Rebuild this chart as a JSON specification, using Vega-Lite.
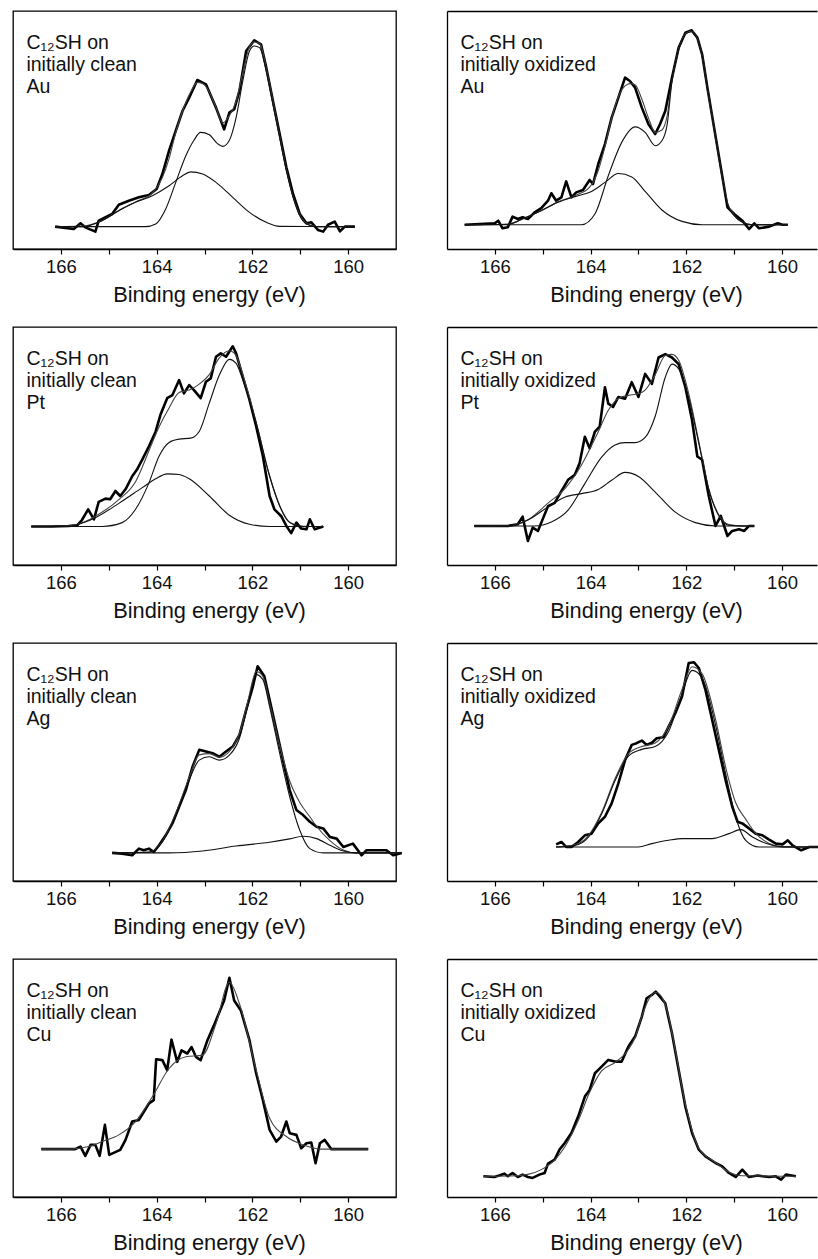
{
"$schema": "https://vega.github.io/schema/vega-lite/v6.json",
"padding": {"left": 12, "top": 10, "right": 0, "bottom": 0},
"config": {"font": "Liberation Sans", "view": {"stroke": null}},
"datasets": {
"clean": [
{"metal":"Au","series":"label","label":"C₁₂SH on\ninitially clean\nAu"},
{"metal":"Pt","series":"label","label":"C₁₂SH on\ninitially clean\nPt"},
{"metal":"Ag","series":"label","label":"C₁₂SH on\ninitially clean\nAg"},
{"metal":"Cu","series":"label","label":"C₁₂SH on\ninitially clean\nCu"},
{"metal":"Au","series":"raw","energy":166.12,"intensity":9.4},{"metal":"Au","series":"raw","energy":165.73,"intensity":8.4},{"metal":"Au","series":"raw","energy":165.59,"intensity":10.8},{"metal":"Au","series":"raw","energy":165.49,"intensity":9.1},{"metal":"Au","series":"raw","energy":165.28,"intensity":7.3},{"metal":"Au","series":"raw","energy":165.21,"intensity":11.9},{"metal":"Au","series":"raw","energy":164.93,"intensity":14.7},{"metal":"Au","series":"raw","energy":164.79,"intensity":18.6},{"metal":"Au","series":"raw","energy":164.58,"intensity":20.3},{"metal":"Au","series":"raw","energy":164.37,"intensity":21.7},{"metal":"Au","series":"raw","energy":164.16,"intensity":22.7},{"metal":"Au","series":"raw","energy":164.0,"intensity":25.2},{"metal":"Au","series":"raw","energy":163.88,"intensity":31.5},{"metal":"Au","series":"raw","energy":163.74,"intensity":41.3},{"metal":"Au","series":"raw","energy":163.6,"intensity":49.7},{"metal":"Au","series":"raw","energy":163.46,"intensity":58.0},{"metal":"Au","series":"raw","energy":163.32,"intensity":63.6},{"metal":"Au","series":"raw","energy":163.15,"intensity":71.0},{"metal":"Au","series":"raw","energy":162.97,"intensity":69.2},{"metal":"Au","series":"raw","energy":162.76,"intensity":59.4},{"metal":"Au","series":"raw","energy":162.59,"intensity":50.3},{"metal":"Au","series":"raw","energy":162.48,"intensity":57.3},{"metal":"Au","series":"raw","energy":162.38,"intensity":58.7},{"metal":"Au","series":"raw","energy":162.27,"intensity":66.4},{"metal":"Au","series":"raw","energy":162.13,"intensity":83.2},{"metal":"Au","series":"raw","energy":161.96,"intensity":87.7},{"metal":"Au","series":"raw","energy":161.82,"intensity":86.0},{"metal":"Au","series":"raw","energy":161.71,"intensity":76.2},{"metal":"Au","series":"raw","energy":161.57,"intensity":62.2},{"metal":"Au","series":"raw","energy":161.43,"intensity":48.3},{"metal":"Au","series":"raw","energy":161.29,"intensity":34.3},{"metal":"Au","series":"raw","energy":161.15,"intensity":23.1},{"metal":"Au","series":"raw","energy":161.01,"intensity":14.7},{"metal":"Au","series":"raw","energy":160.87,"intensity":10.8},{"metal":"Au","series":"raw","energy":160.77,"intensity":11.2},{"metal":"Au","series":"raw","energy":160.63,"intensity":8.0},{"metal":"Au","series":"raw","energy":160.52,"intensity":7.3},{"metal":"Au","series":"raw","energy":160.42,"intensity":10.2},{"metal":"Au","series":"raw","energy":160.28,"intensity":11.5},{"metal":"Au","series":"raw","energy":160.17,"intensity":7.4},{"metal":"Au","series":"raw","energy":160.07,"intensity":9.4},{"metal":"Au","series":"raw","energy":159.86,"intensity":9.4},
{"metal":"Au","series":"fit","energy":166.12,"intensity":9.4},{"metal":"Au","series":"fit","energy":165.56,"intensity":9.6},{"metal":"Au","series":"fit","energy":165.14,"intensity":12.0},{"metal":"Au","series":"fit","energy":164.79,"intensity":16.2},{"metal":"Au","series":"fit","energy":164.44,"intensity":19.8},{"metal":"Au","series":"fit","energy":164.09,"intensity":23.5},{"metal":"Au","series":"fit","energy":163.88,"intensity":30},{"metal":"Au","series":"fit","energy":163.74,"intensity":38},{"metal":"Au","series":"fit","energy":163.6,"intensity":49},{"metal":"Au","series":"fit","energy":163.46,"intensity":58},{"metal":"Au","series":"fit","energy":163.29,"intensity":66},{"metal":"Au","series":"fit","energy":163.15,"intensity":70},{"metal":"Au","series":"fit","energy":163.04,"intensity":69.5},{"metal":"Au","series":"fit","energy":162.9,"intensity":66},{"metal":"Au","series":"fit","energy":162.76,"intensity":59.5},{"metal":"Au","series":"fit","energy":162.62,"intensity":53},{"metal":"Au","series":"fit","energy":162.48,"intensity":56},{"metal":"Au","series":"fit","energy":162.34,"intensity":62},{"metal":"Au","series":"fit","energy":162.2,"intensity":74},{"metal":"Au","series":"fit","energy":162.06,"intensity":85},{"metal":"Au","series":"fit","energy":161.96,"intensity":87},{"metal":"Au","series":"fit","energy":161.85,"intensity":86.5},{"metal":"Au","series":"fit","energy":161.71,"intensity":76},{"metal":"Au","series":"fit","energy":161.57,"intensity":62},{"metal":"Au","series":"fit","energy":161.43,"intensity":47.5},{"metal":"Au","series":"fit","energy":161.29,"intensity":33.5},{"metal":"Au","series":"fit","energy":161.15,"intensity":22},{"metal":"Au","series":"fit","energy":161.01,"intensity":14.5},{"metal":"Au","series":"fit","energy":160.87,"intensity":10.8},{"metal":"Au","series":"fit","energy":160.66,"intensity":9.4},{"metal":"Au","series":"fit","energy":159.86,"intensity":9.4},
{"metal":"Au","series":"c1","energy":166.12,"intensity":9.4},{"metal":"Au","series":"c1","energy":165.56,"intensity":9.4},{"metal":"Au","series":"c1","energy":165.14,"intensity":11.9},{"metal":"Au","series":"c1","energy":164.79,"intensity":16.1},{"metal":"Au","series":"c1","energy":164.44,"intensity":19.6},{"metal":"Au","series":"c1","energy":164.09,"intensity":22.4},{"metal":"Au","series":"c1","energy":163.74,"intensity":26.6},{"metal":"Au","series":"c1","energy":163.46,"intensity":30.8},{"metal":"Au","series":"c1","energy":163.29,"intensity":32.4},{"metal":"Au","series":"c1","energy":163.04,"intensity":31.5},{"metal":"Au","series":"c1","energy":162.76,"intensity":28.0},{"metal":"Au","series":"c1","energy":162.41,"intensity":21.7},{"metal":"Au","series":"c1","energy":162.06,"intensity":15.4},{"metal":"Au","series":"c1","energy":161.71,"intensity":11.2},{"metal":"Au","series":"c1","energy":161.43,"intensity":9.5},{"metal":"Au","series":"c1","energy":159.86,"intensity":9.4},
{"metal":"Au","series":"c2","energy":166.12,"intensity":9.4},{"metal":"Au","series":"c2","energy":164.23,"intensity":9.4},{"metal":"Au","series":"c2","energy":164.02,"intensity":10.5},{"metal":"Au","series":"c2","energy":163.81,"intensity":16.8},{"metal":"Au","series":"c2","energy":163.6,"intensity":28.0},{"metal":"Au","series":"c2","energy":163.39,"intensity":39.2},{"metal":"Au","series":"c2","energy":163.22,"intensity":45.7},{"metal":"Au","series":"c2","energy":163.08,"intensity":49.0},{"metal":"Au","series":"c2","energy":162.9,"intensity":48.0},{"metal":"Au","series":"c2","energy":162.73,"intensity":44.3},{"metal":"Au","series":"c2","energy":162.62,"intensity":43.1},{"metal":"Au","series":"c2","energy":162.48,"intensity":45.7},{"metal":"Au","series":"c2","energy":162.34,"intensity":55.2},{"metal":"Au","series":"c2","energy":162.2,"intensity":70.6},{"metal":"Au","series":"c2","energy":162.06,"intensity":83.2},{"metal":"Au","series":"c2","energy":161.96,"intensity":85.3},{"metal":"Au","series":"c2","energy":161.85,"intensity":84.6},{"metal":"Au","series":"c2","energy":161.71,"intensity":74.8},{"metal":"Au","series":"c2","energy":161.57,"intensity":60.8},{"metal":"Au","series":"c2","energy":161.43,"intensity":46.9},{"metal":"Au","series":"c2","energy":161.29,"intensity":32.9},{"metal":"Au","series":"c2","energy":161.15,"intensity":21.7},{"metal":"Au","series":"c2","energy":161.01,"intensity":14.0},{"metal":"Au","series":"c2","energy":160.87,"intensity":10.5},{"metal":"Au","series":"c2","energy":160.66,"intensity":9.4},{"metal":"Au","series":"c2","energy":159.86,"intensity":9.4},
{"metal":"Pt","series":"raw","energy":166.62,"intensity":16.2},{"metal":"Pt","series":"raw","energy":166.19,"intensity":16.2},{"metal":"Pt","series":"raw","energy":165.84,"intensity":16.4},{"metal":"Pt","series":"raw","energy":165.66,"intensity":16.7},{"metal":"Pt","series":"raw","energy":165.56,"intensity":18.9},{"metal":"Pt","series":"raw","energy":165.43,"intensity":23.4},{"metal":"Pt","series":"raw","energy":165.31,"intensity":19.2},{"metal":"Pt","series":"raw","energy":165.21,"intensity":26.5},{"metal":"Pt","series":"raw","energy":165.07,"intensity":27.9},{"metal":"Pt","series":"raw","energy":164.97,"intensity":27.6},{"metal":"Pt","series":"raw","energy":164.86,"intensity":31.1},{"metal":"Pt","series":"raw","energy":164.76,"intensity":29.0},{"metal":"Pt","series":"raw","energy":164.65,"intensity":31.8},{"metal":"Pt","series":"raw","energy":164.51,"intensity":37.3},{"metal":"Pt","series":"raw","energy":164.41,"intensity":40.1},{"metal":"Pt","series":"raw","energy":164.3,"intensity":44.3},{"metal":"Pt","series":"raw","energy":164.16,"intensity":49.9},{"metal":"Pt","series":"raw","energy":164.02,"intensity":56.1},{"metal":"Pt","series":"raw","energy":163.92,"intensity":63.1},{"metal":"Pt","series":"raw","energy":163.78,"intensity":70.1},{"metal":"Pt","series":"raw","energy":163.67,"intensity":71.4},{"metal":"Pt","series":"raw","energy":163.53,"intensity":77.7},{"metal":"Pt","series":"raw","energy":163.43,"intensity":72.1},{"metal":"Pt","series":"raw","energy":163.32,"intensity":75.6},{"metal":"Pt","series":"raw","energy":163.22,"intensity":73.5},{"metal":"Pt","series":"raw","energy":163.08,"intensity":70.1},{"metal":"Pt","series":"raw","energy":162.97,"intensity":77.0},{"metal":"Pt","series":"raw","energy":162.87,"intensity":78.4},{"metal":"Pt","series":"raw","energy":162.76,"intensity":87.5},{"metal":"Pt","series":"raw","energy":162.66,"intensity":88.9},{"metal":"Pt","series":"raw","energy":162.55,"intensity":87.5},{"metal":"Pt","series":"raw","energy":162.41,"intensity":91.9},{"metal":"Pt","series":"raw","energy":162.34,"intensity":88.9},{"metal":"Pt","series":"raw","energy":162.2,"intensity":79.1},{"metal":"Pt","series":"raw","energy":162.06,"intensity":69.4},{"metal":"Pt","series":"raw","energy":161.92,"intensity":58.2},{"metal":"Pt","series":"raw","energy":161.78,"intensity":45.7},{"metal":"Pt","series":"raw","energy":161.64,"intensity":29.0},{"metal":"Pt","series":"raw","energy":161.54,"intensity":23.4},{"metal":"Pt","series":"raw","energy":161.4,"intensity":20.6},{"metal":"Pt","series":"raw","energy":161.29,"intensity":16.4},{"metal":"Pt","series":"raw","energy":161.19,"intensity":13.4},{"metal":"Pt","series":"raw","energy":161.08,"intensity":17.8},{"metal":"Pt","series":"raw","energy":160.98,"intensity":15.3},{"metal":"Pt","series":"raw","energy":160.87,"intensity":15.0},{"metal":"Pt","series":"raw","energy":160.8,"intensity":19.2},{"metal":"Pt","series":"raw","energy":160.7,"intensity":15.0},{"metal":"Pt","series":"raw","energy":160.52,"intensity":16.2},
{"metal":"Pt","series":"fit","energy":166.62,"intensity":16.2},{"metal":"Pt","series":"fit","energy":165.84,"intensity":16.5},{"metal":"Pt","series":"fit","energy":165.49,"intensity":18.3},{"metal":"Pt","series":"fit","energy":165.28,"intensity":20.5},{"metal":"Pt","series":"fit","energy":164.79,"intensity":27.5},{"metal":"Pt","series":"fit","energy":164.44,"intensity":35},{"metal":"Pt","series":"fit","energy":164.16,"intensity":48},{"metal":"Pt","series":"fit","energy":163.95,"intensity":58},{"metal":"Pt","series":"fit","energy":163.74,"intensity":66},{"metal":"Pt","series":"fit","energy":163.53,"intensity":72.5},{"metal":"Pt","series":"fit","energy":163.32,"intensity":73.5},{"metal":"Pt","series":"fit","energy":163.11,"intensity":76},{"metal":"Pt","series":"fit","energy":162.9,"intensity":80},{"metal":"Pt","series":"fit","energy":162.69,"intensity":87},{"metal":"Pt","series":"fit","energy":162.48,"intensity":90},{"metal":"Pt","series":"fit","energy":162.34,"intensity":88},{"metal":"Pt","series":"fit","energy":162.2,"intensity":80},{"metal":"Pt","series":"fit","energy":161.92,"intensity":60},{"metal":"Pt","series":"fit","energy":161.64,"intensity":37.5},{"metal":"Pt","series":"fit","energy":161.43,"intensity":25},{"metal":"Pt","series":"fit","energy":161.22,"intensity":18},{"metal":"Pt","series":"fit","energy":160.94,"intensity":16.3},{"metal":"Pt","series":"fit","energy":160.52,"intensity":16.2},
{"metal":"Pt","series":"c1","energy":166.62,"intensity":16.2},{"metal":"Pt","series":"c1","energy":165.84,"intensity":16.4},{"metal":"Pt","series":"c1","energy":165.49,"intensity":18.1},{"metal":"Pt","series":"c1","energy":165.28,"intensity":19.9},{"metal":"Pt","series":"c1","energy":164.79,"intensity":25.9},{"metal":"Pt","series":"c1","energy":164.3,"intensity":32.5},{"metal":"Pt","series":"c1","energy":164.02,"intensity":36.2},{"metal":"Pt","series":"c1","energy":163.78,"intensity":38.3},{"metal":"Pt","series":"c1","energy":163.53,"intensity":38.0},{"metal":"Pt","series":"c1","energy":163.32,"intensity":36.2},{"metal":"Pt","series":"c1","energy":162.9,"intensity":29.0},{"metal":"Pt","series":"c1","energy":162.48,"intensity":20.9},{"metal":"Pt","series":"c1","energy":162.06,"intensity":17.1},{"metal":"Pt","series":"c1","energy":161.64,"intensity":16.2},{"metal":"Pt","series":"c1","energy":160.52,"intensity":16.2},
{"metal":"Pt","series":"c2","energy":166.62,"intensity":16.2},{"metal":"Pt","series":"c2","energy":165.14,"intensity":16.2},{"metal":"Pt","series":"c2","energy":164.72,"intensity":17.8},{"metal":"Pt","series":"c2","energy":164.44,"intensity":23.4},{"metal":"Pt","series":"c2","energy":164.16,"intensity":34.5},{"metal":"Pt","series":"c2","energy":163.95,"intensity":45.7},{"metal":"Pt","series":"c2","energy":163.74,"intensity":51.5},{"metal":"Pt","series":"c2","energy":163.53,"intensity":52.9},{"metal":"Pt","series":"c2","energy":163.29,"intensity":53.3},{"metal":"Pt","series":"c2","energy":163.11,"intensity":56.1},{"metal":"Pt","series":"c2","energy":162.9,"intensity":68.0},{"metal":"Pt","series":"c2","energy":162.69,"intensity":79.8},{"metal":"Pt","series":"c2","energy":162.48,"intensity":86.4},{"metal":"Pt","series":"c2","energy":162.34,"intensity":84.7},{"metal":"Pt","series":"c2","energy":162.2,"intensity":77.7},{"metal":"Pt","series":"c2","energy":161.92,"intensity":59.6},{"metal":"Pt","series":"c2","energy":161.64,"intensity":37.3},{"metal":"Pt","series":"c2","energy":161.43,"intensity":24.8},{"metal":"Pt","series":"c2","energy":161.22,"intensity":17.8},{"metal":"Pt","series":"c2","energy":160.94,"intensity":16.2},{"metal":"Pt","series":"c2","energy":160.52,"intensity":16.2},
{"metal":"Ag","series":"raw","energy":164.93,"intensity":11.8},{"metal":"Ag","series":"raw","energy":164.72,"intensity":11.5},{"metal":"Ag","series":"raw","energy":164.51,"intensity":10.8},{"metal":"Ag","series":"raw","energy":164.37,"intensity":13.6},{"metal":"Ag","series":"raw","energy":164.27,"intensity":12.9},{"metal":"Ag","series":"raw","energy":164.16,"intensity":13.6},{"metal":"Ag","series":"raw","energy":164.06,"intensity":12.2},{"metal":"Ag","series":"raw","energy":163.95,"intensity":15.0},{"metal":"Ag","series":"raw","energy":163.81,"intensity":19.2},{"metal":"Ag","series":"raw","energy":163.67,"intensity":24.2},{"metal":"Ag","series":"raw","energy":163.53,"intensity":31.2},{"metal":"Ag","series":"raw","energy":163.39,"intensity":38.2},{"metal":"Ag","series":"raw","energy":163.25,"intensity":48.0},{"metal":"Ag","series":"raw","energy":163.11,"intensity":55.1},{"metal":"Ag","series":"raw","energy":162.97,"intensity":54.4},{"metal":"Ag","series":"raw","energy":162.83,"intensity":53.7},{"metal":"Ag","series":"raw","energy":162.69,"intensity":52.2},{"metal":"Ag","series":"raw","energy":162.55,"intensity":54.4},{"metal":"Ag","series":"raw","energy":162.41,"intensity":56.5},{"metal":"Ag","series":"raw","energy":162.27,"intensity":61.4},{"metal":"Ag","series":"raw","energy":162.13,"intensity":71.9},{"metal":"Ag","series":"raw","energy":161.99,"intensity":81.7},{"metal":"Ag","series":"raw","energy":161.89,"intensity":90.2},{"metal":"Ag","series":"raw","energy":161.75,"intensity":86.0},{"metal":"Ag","series":"raw","energy":161.64,"intensity":76.1},{"metal":"Ag","series":"raw","energy":161.5,"intensity":63.5},{"metal":"Ag","series":"raw","energy":161.36,"intensity":50.8},{"metal":"Ag","series":"raw","energy":161.22,"intensity":38.2},{"metal":"Ag","series":"raw","energy":161.08,"intensity":29.8},{"metal":"Ag","series":"raw","energy":160.94,"intensity":27.7},{"metal":"Ag","series":"raw","energy":160.8,"intensity":24.9},{"metal":"Ag","series":"raw","energy":160.66,"intensity":22.8},{"metal":"Ag","series":"raw","energy":160.52,"intensity":22.1},{"metal":"Ag","series":"raw","energy":160.38,"intensity":18.5},{"metal":"Ag","series":"raw","energy":160.24,"intensity":17.8},{"metal":"Ag","series":"raw","energy":160.1,"intensity":14.3},{"metal":"Ag","series":"raw","energy":159.9,"intensity":15.7},{"metal":"Ag","series":"raw","energy":159.72,"intensity":10.8},{"metal":"Ag","series":"raw","energy":159.62,"intensity":12.9},{"metal":"Ag","series":"raw","energy":159.2,"intensity":12.9},{"metal":"Ag","series":"raw","energy":159.06,"intensity":10.8},{"metal":"Ag","series":"raw","energy":158.88,"intensity":11.8},
{"metal":"Ag","series":"fit","energy":164.93,"intensity":11.8},{"metal":"Ag","series":"fit","energy":164.16,"intensity":12.2},{"metal":"Ag","series":"fit","energy":163.88,"intensity":16.6},{"metal":"Ag","series":"fit","energy":163.6,"intensity":28.5},{"metal":"Ag","series":"fit","energy":163.32,"intensity":43.5},{"metal":"Ag","series":"fit","energy":163.11,"intensity":53},{"metal":"Ag","series":"fit","energy":162.9,"intensity":53.5},{"metal":"Ag","series":"fit","energy":162.69,"intensity":52},{"metal":"Ag","series":"fit","energy":162.48,"intensity":54.5},{"metal":"Ag","series":"fit","energy":162.27,"intensity":62},{"metal":"Ag","series":"fit","energy":162.1,"intensity":75},{"metal":"Ag","series":"fit","energy":161.92,"intensity":88},{"metal":"Ag","series":"fit","energy":161.78,"intensity":86},{"metal":"Ag","series":"fit","energy":161.64,"intensity":75},{"metal":"Ag","series":"fit","energy":161.43,"intensity":57},{"metal":"Ag","series":"fit","energy":161.22,"intensity":42},{"metal":"Ag","series":"fit","energy":161.01,"intensity":33},{"metal":"Ag","series":"fit","energy":160.8,"intensity":27},{"metal":"Ag","series":"fit","energy":160.66,"intensity":23},{"metal":"Ag","series":"fit","energy":160.38,"intensity":17},{"metal":"Ag","series":"fit","energy":160.1,"intensity":13},{"metal":"Ag","series":"fit","energy":159.83,"intensity":11.8},{"metal":"Ag","series":"fit","energy":158.88,"intensity":11.8},
{"metal":"Ag","series":"c1","energy":164.93,"intensity":11.8},{"metal":"Ag","series":"c1","energy":163.74,"intensity":11.8},{"metal":"Ag","series":"c1","energy":163.04,"intensity":12.6},{"metal":"Ag","series":"c1","energy":162.34,"intensity":14.7},{"metal":"Ag","series":"c1","energy":161.64,"intensity":16.3},{"metal":"Ag","series":"c1","energy":161.22,"intensity":17.7},{"metal":"Ag","series":"c1","energy":160.94,"intensity":18.8},{"metal":"Ag","series":"c1","energy":160.66,"intensity":17.8},{"metal":"Ag","series":"c1","energy":160.38,"intensity":15.0},{"metal":"Ag","series":"c1","energy":160.1,"intensity":12.6},{"metal":"Ag","series":"c1","energy":159.83,"intensity":11.8},{"metal":"Ag","series":"c1","energy":158.88,"intensity":11.8},
{"metal":"Ag","series":"c2","energy":164.93,"intensity":11.8},{"metal":"Ag","series":"c2","energy":164.16,"intensity":12.1},{"metal":"Ag","series":"c2","energy":163.88,"intensity":16.4},{"metal":"Ag","series":"c2","energy":163.6,"intensity":27.7},{"metal":"Ag","series":"c2","energy":163.32,"intensity":42.4},{"metal":"Ag","series":"c2","energy":163.11,"intensity":50.8},{"metal":"Ag","series":"c2","energy":162.9,"intensity":52.2},{"metal":"Ag","series":"c2","energy":162.69,"intensity":50.8},{"metal":"Ag","series":"c2","energy":162.48,"intensity":52.9},{"metal":"Ag","series":"c2","energy":162.27,"intensity":60.0},{"metal":"Ag","series":"c2","energy":162.1,"intensity":73.3},{"metal":"Ag","series":"c2","energy":161.92,"intensity":86.7},{"metal":"Ag","series":"c2","energy":161.78,"intensity":84.6},{"metal":"Ag","series":"c2","energy":161.64,"intensity":73.3},{"metal":"Ag","series":"c2","energy":161.43,"intensity":53.7},{"metal":"Ag","series":"c2","energy":161.22,"intensity":35.4},{"metal":"Ag","series":"c2","energy":161.01,"intensity":21.3},{"metal":"Ag","series":"c2","energy":160.8,"intensity":13.6},{"metal":"Ag","series":"c2","energy":160.52,"intensity":11.8},{"metal":"Ag","series":"c2","energy":158.88,"intensity":11.8},
{"metal":"Cu","series":"raw","energy":166.41,"intensity":20.1},{"metal":"Cu","series":"raw","energy":165.7,"intensity":20.1},{"metal":"Cu","series":"raw","energy":165.59,"intensity":21.2},{"metal":"Cu","series":"raw","energy":165.49,"intensity":17.3},{"metal":"Cu","series":"raw","energy":165.38,"intensity":21.9},{"metal":"Cu","series":"raw","energy":165.28,"intensity":21.9},{"metal":"Cu","series":"raw","energy":165.19,"intensity":17.3},{"metal":"Cu","series":"raw","energy":165.08,"intensity":30.3},{"metal":"Cu","series":"raw","energy":164.99,"intensity":17.7},{"metal":"Cu","series":"raw","energy":164.76,"intensity":19.8},{"metal":"Cu","series":"raw","energy":164.65,"intensity":24.0},{"metal":"Cu","series":"raw","energy":164.51,"intensity":31.7},{"metal":"Cu","series":"raw","energy":164.37,"intensity":32.4},{"metal":"Cu","series":"raw","energy":164.16,"intensity":39.3},{"metal":"Cu","series":"raw","energy":164.06,"intensity":40.7},{"metal":"Cu","series":"raw","energy":164.01,"intensity":57.9},{"metal":"Cu","series":"raw","energy":163.88,"intensity":57.5},{"metal":"Cu","series":"raw","energy":163.78,"intensity":53.3},{"metal":"Cu","series":"raw","energy":163.69,"intensity":66.1},{"metal":"Cu","series":"raw","energy":163.57,"intensity":56.8},{"metal":"Cu","series":"raw","energy":163.48,"intensity":61.6},{"metal":"Cu","series":"raw","energy":163.36,"intensity":60.3},{"metal":"Cu","series":"raw","energy":163.27,"intensity":63.0},{"metal":"Cu","series":"raw","energy":163.18,"intensity":58.9},{"metal":"Cu","series":"raw","energy":163.08,"intensity":57.5},{"metal":"Cu","series":"raw","energy":162.94,"intensity":65.8},{"metal":"Cu","series":"raw","energy":162.76,"intensity":74.2},{"metal":"Cu","series":"raw","energy":162.59,"intensity":82.6},{"metal":"Cu","series":"raw","energy":162.48,"intensity":92.1},{"metal":"Cu","series":"raw","energy":162.38,"intensity":82.6},{"metal":"Cu","series":"raw","energy":162.24,"intensity":78.4},{"metal":"Cu","series":"raw","energy":162.06,"intensity":65.8},{"metal":"Cu","series":"raw","energy":161.92,"intensity":51.9},{"metal":"Cu","series":"raw","energy":161.78,"intensity":40.7},{"metal":"Cu","series":"raw","energy":161.64,"intensity":28.2},{"metal":"Cu","series":"raw","energy":161.5,"intensity":23.3},{"metal":"Cu","series":"raw","energy":161.4,"intensity":25.4},{"metal":"Cu","series":"raw","energy":161.29,"intensity":31.7},{"metal":"Cu","series":"raw","energy":161.22,"intensity":26.8},{"metal":"Cu","series":"raw","energy":161.08,"intensity":26.1},{"metal":"Cu","series":"raw","energy":160.98,"intensity":20.5},{"metal":"Cu","series":"raw","energy":160.87,"intensity":22.6},{"metal":"Cu","series":"raw","energy":160.77,"intensity":22.9},{"metal":"Cu","series":"raw","energy":160.68,"intensity":14.2},{"metal":"Cu","series":"raw","energy":160.59,"intensity":22.6},{"metal":"Cu","series":"raw","energy":160.49,"intensity":24.0},{"metal":"Cu","series":"raw","energy":160.35,"intensity":20.1},{"metal":"Cu","series":"raw","energy":159.58,"intensity":20.1},
{"metal":"Cu","series":"fit","energy":166.41,"intensity":20.1},{"metal":"Cu","series":"fit","energy":165.84,"intensity":20.1},{"metal":"Cu","series":"fit","energy":165.42,"intensity":21.2},{"metal":"Cu","series":"fit","energy":165.14,"intensity":23.3},{"metal":"Cu","series":"fit","energy":164.79,"intensity":26.1},{"metal":"Cu","series":"fit","energy":164.44,"intensity":31.7},{"metal":"Cu","series":"fit","energy":164.09,"intensity":42.1},{"metal":"Cu","series":"fit","energy":163.74,"intensity":54.0},{"metal":"Cu","series":"fit","energy":163.39,"intensity":58.9},{"metal":"Cu","series":"fit","energy":163.04,"intensity":59.6},{"metal":"Cu","series":"fit","energy":162.76,"intensity":72.8},{"metal":"Cu","series":"fit","energy":162.48,"intensity":90.2},{"metal":"Cu","series":"fit","energy":162.27,"intensity":81.2},{"metal":"Cu","series":"fit","energy":161.92,"intensity":53.3},{"metal":"Cu","series":"fit","energy":161.64,"intensity":33.1},{"metal":"Cu","series":"fit","energy":161.29,"intensity":25.4},{"metal":"Cu","series":"fit","energy":160.94,"intensity":21.9},{"metal":"Cu","series":"fit","energy":160.59,"intensity":20.1},{"metal":"Cu","series":"fit","energy":159.58,"intensity":20.1}
],
"oxidized": [
{"metal":"Au","series":"label","label":"C₁₂SH on\ninitially oxidized\nAu"},
{"metal":"Pt","series":"label","label":"C₁₂SH on\ninitially oxidized\nPt"},
{"metal":"Ag","series":"label","label":"C₁₂SH on\ninitially oxidized\nAg"},
{"metal":"Cu","series":"label","label":"C₁₂SH on\ninitially oxidized\nCu"},
{"metal":"Au","series":"raw","energy":166.63,"intensity":10.2},{"metal":"Au","series":"raw","energy":166.0,"intensity":10.8},{"metal":"Au","series":"raw","energy":165.93,"intensity":11.9},{"metal":"Au","series":"raw","energy":165.84,"intensity":8.7},{"metal":"Au","series":"raw","energy":165.73,"intensity":9.1},{"metal":"Au","series":"raw","energy":165.63,"intensity":13.6},{"metal":"Au","series":"raw","energy":165.52,"intensity":12.6},{"metal":"Au","series":"raw","energy":165.42,"intensity":13.3},{"metal":"Au","series":"raw","energy":165.31,"intensity":12.6},{"metal":"Au","series":"raw","energy":165.17,"intensity":15.4},{"metal":"Au","series":"raw","energy":165.03,"intensity":17.2},{"metal":"Au","series":"raw","energy":164.89,"intensity":20.3},{"metal":"Au","series":"raw","energy":164.82,"intensity":23.4},{"metal":"Au","series":"raw","energy":164.72,"intensity":20.3},{"metal":"Au","series":"raw","energy":164.61,"intensity":21.7},{"metal":"Au","series":"raw","energy":164.51,"intensity":28.4},{"metal":"Au","series":"raw","energy":164.4,"intensity":21.7},{"metal":"Au","series":"raw","energy":164.3,"intensity":23.8},{"metal":"Au","series":"raw","energy":164.16,"intensity":24.8},{"metal":"Au","series":"raw","energy":164.02,"intensity":29.0},{"metal":"Au","series":"raw","energy":163.95,"intensity":27.3},{"metal":"Au","series":"raw","energy":163.84,"intensity":35.7},{"metal":"Au","series":"raw","energy":163.7,"intensity":44.1},{"metal":"Au","series":"raw","energy":163.56,"intensity":55.2},{"metal":"Au","series":"raw","energy":163.42,"intensity":63.6},{"metal":"Au","series":"raw","energy":163.28,"intensity":72.0},{"metal":"Au","series":"raw","energy":163.18,"intensity":70.6},{"metal":"Au","series":"raw","energy":163.07,"intensity":67.8},{"metal":"Au","series":"raw","energy":162.93,"intensity":59.4},{"metal":"Au","series":"raw","energy":162.79,"intensity":52.4},{"metal":"Au","series":"raw","energy":162.65,"intensity":48.3},{"metal":"Au","series":"raw","energy":162.55,"intensity":52.4},{"metal":"Au","series":"raw","energy":162.44,"intensity":58.0},{"metal":"Au","series":"raw","energy":162.3,"intensity":72.0},{"metal":"Au","series":"raw","energy":162.16,"intensity":84.6},{"metal":"Au","series":"raw","energy":162.02,"intensity":90.9},{"metal":"Au","series":"raw","energy":161.89,"intensity":91.9},{"metal":"Au","series":"raw","energy":161.77,"intensity":88.8},{"metal":"Au","series":"raw","energy":161.67,"intensity":81.8},{"metal":"Au","series":"raw","energy":161.56,"intensity":67.8},{"metal":"Au","series":"raw","energy":161.42,"intensity":51.0},{"metal":"Au","series":"raw","energy":161.28,"intensity":34.3},{"metal":"Au","series":"raw","energy":161.14,"intensity":17.5},{"metal":"Au","series":"raw","energy":161.0,"intensity":14.7},{"metal":"Au","series":"raw","energy":160.83,"intensity":11.9},{"metal":"Au","series":"raw","energy":160.69,"intensity":8.4},{"metal":"Au","series":"raw","energy":160.58,"intensity":10.8},{"metal":"Au","series":"raw","energy":160.48,"intensity":8.7},{"metal":"Au","series":"raw","energy":160.27,"intensity":9.4},{"metal":"Au","series":"raw","energy":160.09,"intensity":10.8},{"metal":"Au","series":"raw","energy":159.99,"intensity":10.2},{"metal":"Au","series":"raw","energy":159.88,"intensity":10.2},
{"metal":"Au","series":"fit","energy":166.63,"intensity":10.2},{"metal":"Au","series":"fit","energy":165.73,"intensity":10.4},{"metal":"Au","series":"fit","energy":165.38,"intensity":13.0},{"metal":"Au","series":"fit","energy":165.03,"intensity":16.2},{"metal":"Au","series":"fit","energy":164.68,"intensity":19.8},{"metal":"Au","series":"fit","energy":164.33,"intensity":22.4},{"metal":"Au","series":"fit","energy":164.02,"intensity":26},{"metal":"Au","series":"fit","energy":163.84,"intensity":33},{"metal":"Au","series":"fit","energy":163.7,"intensity":43},{"metal":"Au","series":"fit","energy":163.56,"intensity":55},{"metal":"Au","series":"fit","energy":163.42,"intensity":64},{"metal":"Au","series":"fit","energy":163.28,"intensity":68.5},{"metal":"Au","series":"fit","energy":163.18,"intensity":69.5},{"metal":"Au","series":"fit","energy":163.07,"intensity":69},{"metal":"Au","series":"fit","energy":162.93,"intensity":63},{"metal":"Au","series":"fit","energy":162.79,"intensity":55},{"metal":"Au","series":"fit","energy":162.65,"intensity":49},{"metal":"Au","series":"fit","energy":162.51,"intensity":50},{"metal":"Au","series":"fit","energy":162.4,"intensity":56},{"metal":"Au","series":"fit","energy":162.3,"intensity":70.6},{"metal":"Au","series":"fit","energy":162.16,"intensity":84},{"metal":"Au","series":"fit","energy":162.02,"intensity":90.5},{"metal":"Au","series":"fit","energy":161.89,"intensity":91.5},{"metal":"Au","series":"fit","energy":161.77,"intensity":88.5},{"metal":"Au","series":"fit","energy":161.67,"intensity":81.5},{"metal":"Au","series":"fit","energy":161.56,"intensity":67.6},{"metal":"Au","series":"fit","energy":161.42,"intensity":50.8},{"metal":"Au","series":"fit","energy":161.28,"intensity":33.8},{"metal":"Au","series":"fit","energy":161.14,"intensity":19.5},{"metal":"Au","series":"fit","energy":161.0,"intensity":14.2},{"metal":"Au","series":"fit","energy":160.83,"intensity":11.3},{"metal":"Au","series":"fit","energy":160.62,"intensity":10.2},{"metal":"Au","series":"fit","energy":159.88,"intensity":10.2},
{"metal":"Au","series":"c1","energy":166.63,"intensity":10.2},{"metal":"Au","series":"c1","energy":165.73,"intensity":10.4},{"metal":"Au","series":"c1","energy":165.38,"intensity":13.0},{"metal":"Au","series":"c1","energy":165.03,"intensity":16.1},{"metal":"Au","series":"c1","energy":164.68,"intensity":19.6},{"metal":"Au","series":"c1","energy":164.33,"intensity":22.0},{"metal":"Au","series":"c1","energy":163.98,"intensity":24.2},{"metal":"Au","series":"c1","energy":163.7,"intensity":28.0},{"metal":"Au","series":"c1","energy":163.42,"intensity":31.7},{"metal":"Au","series":"c1","energy":163.14,"intensity":30.3},{"metal":"Au","series":"c1","energy":162.86,"intensity":24.2},{"metal":"Au","series":"c1","energy":162.51,"intensity":16.4},{"metal":"Au","series":"c1","energy":162.09,"intensity":11.6},{"metal":"Au","series":"c1","energy":161.67,"intensity":10.2},{"metal":"Au","series":"c1","energy":159.88,"intensity":10.2},
{"metal":"Au","series":"c2","energy":166.63,"intensity":10.2},{"metal":"Au","series":"c2","energy":164.19,"intensity":10.2},{"metal":"Au","series":"c2","energy":163.91,"intensity":14.7},{"metal":"Au","series":"c2","energy":163.63,"intensity":30.8},{"metal":"Au","series":"c2","energy":163.35,"intensity":44.8},{"metal":"Au","series":"c2","energy":163.07,"intensity":51.3},{"metal":"Au","series":"c2","energy":162.86,"intensity":49.0},{"metal":"Au","series":"c2","energy":162.65,"intensity":43.4},{"metal":"Au","series":"c2","energy":162.51,"intensity":45.5},{"metal":"Au","series":"c2","energy":162.4,"intensity":52.4},{"metal":"Au","series":"c2","energy":162.3,"intensity":70.6},{"metal":"Au","series":"c2","energy":162.16,"intensity":83.9},{"metal":"Au","series":"c2","energy":162.02,"intensity":90.2},{"metal":"Au","series":"c2","energy":161.89,"intensity":91.3},{"metal":"Au","series":"c2","energy":161.77,"intensity":88.5},{"metal":"Au","series":"c2","energy":161.67,"intensity":81.5},{"metal":"Au","series":"c2","energy":161.56,"intensity":67.6},{"metal":"Au","series":"c2","energy":161.42,"intensity":50.8},{"metal":"Au","series":"c2","energy":161.28,"intensity":33.6},{"metal":"Au","series":"c2","energy":161.14,"intensity":18.9},{"metal":"Au","series":"c2","energy":161.0,"intensity":14.0},{"metal":"Au","series":"c2","energy":160.83,"intensity":11.2},{"metal":"Au","series":"c2","energy":160.62,"intensity":10.2},{"metal":"Au","series":"c2","energy":159.88,"intensity":10.2},
{"metal":"Pt","series":"raw","energy":166.43,"intensity":16.4},{"metal":"Pt","series":"raw","energy":165.73,"intensity":16.4},{"metal":"Pt","series":"raw","energy":165.52,"intensity":17.1},{"metal":"Pt","series":"raw","energy":165.42,"intensity":20.3},{"metal":"Pt","series":"raw","energy":165.31,"intensity":10.1},{"metal":"Pt","series":"raw","energy":165.21,"intensity":15.7},{"metal":"Pt","series":"raw","energy":165.1,"intensity":14.3},{"metal":"Pt","series":"raw","energy":165.03,"intensity":17.8},{"metal":"Pt","series":"raw","energy":164.89,"intensity":24.7},{"metal":"Pt","series":"raw","energy":164.75,"intensity":26.1},{"metal":"Pt","series":"raw","energy":164.61,"intensity":31.0},{"metal":"Pt","series":"raw","energy":164.47,"intensity":35.8},{"metal":"Pt","series":"raw","energy":164.33,"intensity":37.9},{"metal":"Pt","series":"raw","energy":164.23,"intensity":42.8},{"metal":"Pt","series":"raw","energy":164.12,"intensity":53.9},{"metal":"Pt","series":"raw","energy":164.02,"intensity":49.0},{"metal":"Pt","series":"raw","energy":163.91,"intensity":56.0},{"metal":"Pt","series":"raw","energy":163.81,"intensity":58.1},{"metal":"Pt","series":"raw","energy":163.7,"intensity":74.7},{"metal":"Pt","series":"raw","energy":163.63,"intensity":67.8},{"metal":"Pt","series":"raw","energy":163.53,"intensity":66.4},{"metal":"Pt","series":"raw","energy":163.42,"intensity":70.6},{"metal":"Pt","series":"raw","energy":163.28,"intensity":69.9},{"metal":"Pt","series":"raw","energy":163.14,"intensity":76.8},{"metal":"Pt","series":"raw","energy":163.0,"intensity":70.6},{"metal":"Pt","series":"raw","energy":162.86,"intensity":80.3},{"metal":"Pt","series":"raw","energy":162.72,"intensity":76.1},{"metal":"Pt","series":"raw","energy":162.58,"intensity":87.2},{"metal":"Pt","series":"raw","energy":162.44,"intensity":88.6},{"metal":"Pt","series":"raw","energy":162.3,"intensity":87.2},{"metal":"Pt","series":"raw","energy":162.16,"intensity":84.4},{"metal":"Pt","series":"raw","energy":162.02,"intensity":74.7},{"metal":"Pt","series":"raw","energy":161.88,"intensity":60.8},{"metal":"Pt","series":"raw","energy":161.77,"intensity":45.6},{"metal":"Pt","series":"raw","energy":161.67,"intensity":44.2},{"metal":"Pt","series":"raw","energy":161.53,"intensity":28.9},{"metal":"Pt","series":"raw","energy":161.39,"intensity":16.4},{"metal":"Pt","series":"raw","energy":161.28,"intensity":20.6},{"metal":"Pt","series":"raw","energy":161.14,"intensity":12.2},{"metal":"Pt","series":"raw","energy":161.04,"intensity":14.3},{"metal":"Pt","series":"raw","energy":160.9,"intensity":15.0},{"metal":"Pt","series":"raw","energy":160.79,"intensity":14.3},{"metal":"Pt","series":"raw","energy":160.69,"intensity":16.4},{"metal":"Pt","series":"raw","energy":160.58,"intensity":16.4},
{"metal":"Pt","series":"fit","energy":166.43,"intensity":16.4},{"metal":"Pt","series":"fit","energy":165.73,"intensity":16.5},{"metal":"Pt","series":"fit","energy":165.31,"intensity":19},{"metal":"Pt","series":"fit","energy":164.89,"intensity":26},{"metal":"Pt","series":"fit","energy":164.54,"intensity":32},{"metal":"Pt","series":"fit","energy":164.19,"intensity":42},{"metal":"Pt","series":"fit","energy":163.84,"intensity":56},{"metal":"Pt","series":"fit","energy":163.63,"intensity":65},{"metal":"Pt","series":"fit","energy":163.42,"intensity":70},{"metal":"Pt","series":"fit","energy":163.14,"intensity":71.5},{"metal":"Pt","series":"fit","energy":163.0,"intensity":72},{"metal":"Pt","series":"fit","energy":162.86,"intensity":73.5},{"metal":"Pt","series":"fit","energy":162.65,"intensity":80},{"metal":"Pt","series":"fit","energy":162.44,"intensity":88},{"metal":"Pt","series":"fit","energy":162.3,"intensity":88.5},{"metal":"Pt","series":"fit","energy":162.16,"intensity":86},{"metal":"Pt","series":"fit","energy":161.95,"intensity":72},{"metal":"Pt","series":"fit","energy":161.74,"intensity":52},{"metal":"Pt","series":"fit","energy":161.53,"intensity":32},{"metal":"Pt","series":"fit","energy":161.32,"intensity":21},{"metal":"Pt","series":"fit","energy":161.11,"intensity":17},{"metal":"Pt","series":"fit","energy":160.83,"intensity":16.4},{"metal":"Pt","series":"fit","energy":160.58,"intensity":16.4},
{"metal":"Pt","series":"c1","energy":166.43,"intensity":16.4},{"metal":"Pt","series":"c1","energy":165.73,"intensity":16.4},{"metal":"Pt","series":"c1","energy":165.31,"intensity":18.9},{"metal":"Pt","series":"c1","energy":164.89,"intensity":24.4},{"metal":"Pt","series":"c1","energy":164.54,"intensity":28.5},{"metal":"Pt","series":"c1","energy":164.19,"intensity":30.0},{"metal":"Pt","series":"c1","energy":163.84,"intensity":31.7},{"metal":"Pt","series":"c1","energy":163.56,"intensity":35.6},{"metal":"Pt","series":"c1","energy":163.28,"intensity":38.9},{"metal":"Pt","series":"c1","energy":163.0,"intensity":37.2},{"metal":"Pt","series":"c1","energy":162.65,"intensity":30.6},{"metal":"Pt","series":"c1","energy":162.23,"intensity":22.2},{"metal":"Pt","series":"c1","energy":161.81,"intensity":17.8},{"metal":"Pt","series":"c1","energy":161.39,"intensity":16.4},{"metal":"Pt","series":"c1","energy":160.58,"intensity":16.4},
{"metal":"Pt","series":"c2","energy":166.43,"intensity":16.4},{"metal":"Pt","series":"c2","energy":165.17,"intensity":16.4},{"metal":"Pt","series":"c2","energy":164.82,"intensity":18.1},{"metal":"Pt","series":"c2","energy":164.47,"intensity":23.1},{"metal":"Pt","series":"c2","energy":164.12,"intensity":34.2},{"metal":"Pt","series":"c2","energy":163.77,"intensity":45.3},{"metal":"Pt","series":"c2","energy":163.49,"intensity":50.4},{"metal":"Pt","series":"c2","energy":163.28,"intensity":51.4},{"metal":"Pt","series":"c2","energy":163.07,"intensity":51.4},{"metal":"Pt","series":"c2","energy":162.86,"intensity":53.6},{"metal":"Pt","series":"c2","energy":162.65,"intensity":62.5},{"metal":"Pt","series":"c2","energy":162.44,"intensity":78.9},{"metal":"Pt","series":"c2","energy":162.3,"intensity":84.4},{"metal":"Pt","series":"c2","energy":162.16,"intensity":82.4},{"metal":"Pt","series":"c2","energy":161.95,"intensity":70.3},{"metal":"Pt","series":"c2","energy":161.74,"intensity":51.1},{"metal":"Pt","series":"c2","energy":161.53,"intensity":31.7},{"metal":"Pt","series":"c2","energy":161.32,"intensity":20.6},{"metal":"Pt","series":"c2","energy":161.11,"intensity":16.7},{"metal":"Pt","series":"c2","energy":160.83,"intensity":16.4},{"metal":"Pt","series":"c2","energy":160.58,"intensity":16.4},
{"metal":"Ag","series":"raw","energy":164.72,"intensity":15.4},{"metal":"Ag","series":"raw","energy":164.61,"intensity":16.4},{"metal":"Ag","series":"raw","energy":164.51,"intensity":14.3},{"metal":"Ag","series":"raw","energy":164.4,"intensity":14.3},{"metal":"Ag","series":"raw","energy":164.26,"intensity":16.4},{"metal":"Ag","series":"raw","energy":164.12,"intensity":19.2},{"metal":"Ag","series":"raw","energy":163.98,"intensity":19.9},{"metal":"Ag","series":"raw","energy":163.84,"intensity":24.2},{"metal":"Ag","series":"raw","energy":163.7,"intensity":27.0},{"metal":"Ag","series":"raw","energy":163.56,"intensity":32.6},{"metal":"Ag","series":"raw","energy":163.42,"intensity":41.0},{"metal":"Ag","series":"raw","energy":163.28,"intensity":50.8},{"metal":"Ag","series":"raw","energy":163.14,"intensity":57.2},{"metal":"Ag","series":"raw","energy":163.04,"intensity":57.9},{"metal":"Ag","series":"raw","energy":162.93,"intensity":59.0},{"metal":"Ag","series":"raw","energy":162.83,"intensity":57.2},{"metal":"Ag","series":"raw","energy":162.72,"intensity":58.1},{"metal":"Ag","series":"raw","energy":162.62,"intensity":60.0},{"metal":"Ag","series":"raw","energy":162.48,"intensity":60.4},{"metal":"Ag","series":"raw","energy":162.37,"intensity":64.9},{"metal":"Ag","series":"raw","energy":162.23,"intensity":70.5},{"metal":"Ag","series":"raw","energy":162.09,"intensity":77.5},{"metal":"Ag","series":"raw","energy":161.95,"intensity":91.6},{"metal":"Ag","series":"raw","energy":161.84,"intensity":91.9},{"metal":"Ag","series":"raw","energy":161.74,"intensity":89.5},{"metal":"Ag","series":"raw","energy":161.6,"intensity":80.3},{"metal":"Ag","series":"raw","energy":161.46,"intensity":67.7},{"metal":"Ag","series":"raw","energy":161.32,"intensity":55.1},{"metal":"Ag","series":"raw","energy":161.18,"intensity":42.4},{"metal":"Ag","series":"raw","energy":161.04,"intensity":31.2},{"metal":"Ag","series":"raw","energy":160.93,"intensity":24.9},{"metal":"Ag","series":"raw","energy":160.83,"intensity":24.2},{"metal":"Ag","series":"raw","energy":160.69,"intensity":22.1},{"metal":"Ag","series":"raw","energy":160.55,"intensity":19.9},{"metal":"Ag","series":"raw","energy":160.41,"intensity":19.2},{"metal":"Ag","series":"raw","energy":160.27,"intensity":17.4},{"metal":"Ag","series":"raw","energy":160.13,"intensity":15.7},{"metal":"Ag","series":"raw","energy":159.99,"intensity":15.4},{"metal":"Ag","series":"raw","energy":159.88,"intensity":17.1},{"metal":"Ag","series":"raw","energy":159.78,"intensity":15.0},{"metal":"Ag","series":"raw","energy":159.6,"intensity":12.9},{"metal":"Ag","series":"raw","energy":159.43,"intensity":14.3},{"metal":"Ag","series":"raw","energy":159.2,"intensity":14.3},
{"metal":"Ag","series":"fit","energy":164.72,"intensity":14.3},{"metal":"Ag","series":"fit","energy":164.33,"intensity":15.2},{"metal":"Ag","series":"fit","energy":164.05,"intensity":19},{"metal":"Ag","series":"fit","energy":163.77,"intensity":28.8},{"metal":"Ag","series":"fit","energy":163.49,"intensity":43},{"metal":"Ag","series":"fit","energy":163.21,"intensity":53.5},{"metal":"Ag","series":"fit","energy":162.93,"intensity":56.5},{"metal":"Ag","series":"fit","energy":162.65,"intensity":58},{"metal":"Ag","series":"fit","energy":162.37,"intensity":65},{"metal":"Ag","series":"fit","energy":162.09,"intensity":80.5},{"metal":"Ag","series":"fit","energy":161.88,"intensity":90},{"metal":"Ag","series":"fit","energy":161.67,"intensity":87},{"metal":"Ag","series":"fit","energy":161.39,"intensity":68},{"metal":"Ag","series":"fit","energy":161.18,"intensity":48},{"metal":"Ag","series":"fit","energy":160.97,"intensity":33},{"metal":"Ag","series":"fit","energy":160.76,"intensity":26},{"metal":"Ag","series":"fit","energy":160.55,"intensity":20},{"metal":"Ag","series":"fit","energy":160.27,"intensity":15.8},{"metal":"Ag","series":"fit","energy":159.99,"intensity":14.4},{"metal":"Ag","series":"fit","energy":159.2,"intensity":14.3},
{"metal":"Ag","series":"c1","energy":164.72,"intensity":14.3},{"metal":"Ag","series":"c1","energy":163.0,"intensity":14.3},{"metal":"Ag","series":"c1","energy":162.72,"intensity":15.7},{"metal":"Ag","series":"c1","energy":162.37,"intensity":17.1},{"metal":"Ag","series":"c1","energy":162.09,"intensity":17.8},{"metal":"Ag","series":"c1","energy":161.46,"intensity":17.8},{"metal":"Ag","series":"c1","energy":161.11,"intensity":19.9},{"metal":"Ag","series":"c1","energy":160.86,"intensity":21.6},{"metal":"Ag","series":"c1","energy":160.62,"intensity":18.5},{"metal":"Ag","series":"c1","energy":160.27,"intensity":15.4},{"metal":"Ag","series":"c1","energy":159.99,"intensity":14.3},{"metal":"Ag","series":"c1","energy":159.2,"intensity":14.3},
{"metal":"Ag","series":"c2","energy":164.72,"intensity":14.3},{"metal":"Ag","series":"c2","energy":164.33,"intensity":14.9},{"metal":"Ag","series":"c2","energy":164.05,"intensity":18.3},{"metal":"Ag","series":"c2","energy":163.77,"intensity":28.1},{"metal":"Ag","series":"c2","energy":163.49,"intensity":42.1},{"metal":"Ag","series":"c2","energy":163.21,"intensity":52.5},{"metal":"Ag","series":"c2","energy":162.93,"intensity":55.3},{"metal":"Ag","series":"c2","energy":162.65,"intensity":56.5},{"metal":"Ag","series":"c2","energy":162.37,"intensity":62.8},{"metal":"Ag","series":"c2","energy":162.09,"intensity":78.7},{"metal":"Ag","series":"c2","energy":161.88,"intensity":88.5},{"metal":"Ag","series":"c2","energy":161.67,"intensity":85.3},{"metal":"Ag","series":"c2","energy":161.39,"intensity":65.6},{"metal":"Ag","series":"c2","energy":161.18,"intensity":45.2},{"metal":"Ag","series":"c2","energy":160.97,"intensity":27.0},{"metal":"Ag","series":"c2","energy":160.76,"intensity":17.1},{"metal":"Ag","series":"c2","energy":160.48,"intensity":14.3},{"metal":"Ag","series":"c2","energy":159.2,"intensity":14.3},
{"metal":"Cu","series":"raw","energy":166.24,"intensity":8.7},{"metal":"Cu","series":"raw","energy":166.01,"intensity":8.4},{"metal":"Cu","series":"raw","energy":165.91,"intensity":9.0},{"metal":"Cu","series":"raw","energy":165.8,"intensity":9.8},{"metal":"Cu","series":"raw","energy":165.73,"intensity":8.7},{"metal":"Cu","series":"raw","energy":165.63,"intensity":10.1},{"metal":"Cu","series":"raw","energy":165.52,"intensity":8.4},{"metal":"Cu","series":"raw","energy":165.42,"intensity":9.4},{"metal":"Cu","series":"raw","energy":165.31,"intensity":8.4},{"metal":"Cu","series":"raw","energy":165.21,"intensity":8.0},{"metal":"Cu","series":"raw","energy":165.07,"intensity":9.4},{"metal":"Cu","series":"raw","energy":164.96,"intensity":10.1},{"metal":"Cu","series":"raw","energy":164.89,"intensity":14.0},{"metal":"Cu","series":"raw","energy":164.75,"intensity":15.7},{"metal":"Cu","series":"raw","energy":164.65,"intensity":19.9},{"metal":"Cu","series":"raw","energy":164.54,"intensity":22.7},{"metal":"Cu","series":"raw","energy":164.4,"intensity":26.9},{"metal":"Cu","series":"raw","energy":164.26,"intensity":33.8},{"metal":"Cu","series":"raw","energy":164.12,"intensity":42.2},{"metal":"Cu","series":"raw","energy":164.02,"intensity":45.0},{"metal":"Cu","series":"raw","energy":163.91,"intensity":52.0},{"metal":"Cu","series":"raw","energy":163.77,"intensity":54.8},{"metal":"Cu","series":"raw","energy":163.63,"intensity":57.6},{"metal":"Cu","series":"raw","energy":163.49,"intensity":56.9},{"metal":"Cu","series":"raw","energy":163.35,"intensity":56.9},{"metal":"Cu","series":"raw","energy":163.21,"intensity":63.2},{"metal":"Cu","series":"raw","energy":163.07,"intensity":67.4},{"metal":"Cu","series":"raw","energy":162.93,"intensity":75.8},{"metal":"Cu","series":"raw","energy":162.83,"intensity":83.5},{"metal":"Cu","series":"raw","energy":162.72,"intensity":84.9},{"metal":"Cu","series":"raw","energy":162.64,"intensity":86.3},{"metal":"Cu","series":"raw","energy":162.55,"intensity":84.2},{"metal":"Cu","series":"raw","energy":162.44,"intensity":81.4},{"metal":"Cu","series":"raw","energy":162.3,"intensity":68.8},{"metal":"Cu","series":"raw","energy":162.16,"intensity":53.4},{"metal":"Cu","series":"raw","energy":162.02,"intensity":38.0},{"metal":"Cu","series":"raw","energy":161.88,"intensity":26.9},{"metal":"Cu","series":"raw","energy":161.74,"intensity":19.9},{"metal":"Cu","series":"raw","energy":161.6,"intensity":17.1},{"metal":"Cu","series":"raw","energy":161.39,"intensity":14.3},{"metal":"Cu","series":"raw","energy":161.25,"intensity":12.9},{"metal":"Cu","series":"raw","energy":161.11,"intensity":10.1},{"metal":"Cu","series":"raw","energy":160.97,"intensity":8.4},{"metal":"Cu","series":"raw","energy":160.83,"intensity":11.5},{"metal":"Cu","series":"raw","energy":160.69,"intensity":8.4},{"metal":"Cu","series":"raw","energy":160.51,"intensity":9.0},{"metal":"Cu","series":"raw","energy":160.41,"intensity":8.7},{"metal":"Cu","series":"raw","energy":160.27,"intensity":8.4},{"metal":"Cu","series":"raw","energy":160.13,"intensity":8.7},{"metal":"Cu","series":"raw","energy":160.02,"intensity":7.3},{"metal":"Cu","series":"raw","energy":159.92,"intensity":9.4},{"metal":"Cu","series":"raw","energy":159.71,"intensity":8.7},
{"metal":"Cu","series":"fit","energy":166.24,"intensity":8.7},{"metal":"Cu","series":"fit","energy":165.73,"intensity":8.8},{"metal":"Cu","series":"fit","energy":165.31,"intensity":9.5},{"metal":"Cu","series":"fit","energy":165.03,"intensity":11.5},{"metal":"Cu","series":"fit","energy":164.75,"intensity":15.5},{"metal":"Cu","series":"fit","energy":164.54,"intensity":21},{"metal":"Cu","series":"fit","energy":164.26,"intensity":32},{"metal":"Cu","series":"fit","energy":164.02,"intensity":44},{"metal":"Cu","series":"fit","energy":163.77,"intensity":53},{"metal":"Cu","series":"fit","energy":163.49,"intensity":56.5},{"metal":"Cu","series":"fit","energy":163.21,"intensity":62},{"metal":"Cu","series":"fit","energy":163.07,"intensity":67},{"metal":"Cu","series":"fit","energy":162.93,"intensity":76},{"metal":"Cu","series":"fit","energy":162.72,"intensity":85},{"metal":"Cu","series":"fit","energy":162.64,"intensity":86},{"metal":"Cu","series":"fit","energy":162.44,"intensity":81},{"metal":"Cu","series":"fit","energy":162.3,"intensity":69},{"metal":"Cu","series":"fit","energy":162.02,"intensity":39},{"metal":"Cu","series":"fit","energy":161.74,"intensity":20.5},{"metal":"Cu","series":"fit","energy":161.39,"intensity":14.5},{"metal":"Cu","series":"fit","energy":161.11,"intensity":10.5},{"metal":"Cu","series":"fit","energy":160.83,"intensity":8.9},{"metal":"Cu","series":"fit","energy":159.71,"intensity":8.7}
]
},
"spacing": 42,
"hconcat": [
{
"data": {"name": "clean"},
"facet": {"row": {"field": "metal", "type": "nominal", "sort": ["Au","Pt","Ag","Cu"], "header": null}},
"spacing": {"row": 78},
"bounds": "flush",
"resolve": {"axis": {"x": "independent"}},
"spec": {
"width": 383, "height": 238,
"view": {"stroke": "black", "strokeWidth": 1.3},
"resolve": {"axis": {"x": "independent", "y": "independent"}},
"layer": [
{
"transform": [{"filter": "datum.series == 'raw'"}],
"mark": {"type": "line", "color": "black", "strokeWidth": 2.6, "strokeJoin": "round"},
"encoding": {
"x": {"field": "energy", "type": "quantitative", "scale": {"domain": [159, 167], "reverse": true, "nice": false, "zero": false},
"axis": {"values": [160,161,162,163,164,165,166], "labelExpr": "datum.value % 2 == 0 ? datum.label : ''", "title": "Binding energy (eV)", "titleFontSize": 21.8, "titleFontWeight": "normal", "titleColor": "#111", "titlePadding": 9, "titleX": 196, "labelFontSize": 18.5, "labelColor": "#111", "labelPadding": 3, "tickSize": 5, "tickColor": "black", "tickWidth": 1.2, "domainColor": "black", "domainWidth": 1.3, "grid": false, "labelOverlap": false, "labelFlush": false}},
"y": {"field": "intensity", "type": "quantitative", "scale": {"domain": [0, 100], "nice": false, "zero": false}, "axis": null}
}
},
{
"transform": [{"filter": "datum.series == 'fit' || datum.series == 'c1' || datum.series == 'c2'"}],
"mark": {"type": "line", "strokeWidth": 1.1, "interpolate": "monotone"},
"encoding": {
"x": {"field": "energy", "type": "quantitative", "axis": null},
"y": {"field": "intensity", "type": "quantitative", "axis": null},
"detail": {"field": "series"},
"color": {"field": "series", "type": "nominal", "scale": {"domain": ["fit","c1","c2"], "range": ["#444444","#111111","#111111"]}, "legend": null}
}
},
{
"transform": [{"filter": "datum.series == 'label'"}],
"mark": {"type": "text", "align": "left", "baseline": "alphabetic", "fontSize": 19.5, "lineHeight": 22, "lineBreak": "\n", "color": "#111"},
"encoding": {
"x": {"datum": 166.72, "axis": null},
"y": {"datum": 84, "axis": null},
"text": {"field": "label"}
}
}
]
}
},
{
"data": {"name": "oxidized"},
"facet": {"row": {"field": "metal", "type": "nominal", "sort": ["Au","Pt","Ag","Cu"], "header": null}},
"spacing": {"row": 78},
"bounds": "flush",
"resolve": {"axis": {"x": "independent"}},
"spec": {
"width": 370, "height": 238,
"view": {"stroke": null},
"resolve": {"axis": {"x": "independent", "y": "independent"}},
"layer": [
{
"transform": [{"filter": "datum.series == 'raw'"}],
"mark": {"type": "line", "color": "black", "strokeWidth": 2.6, "strokeJoin": "round"},
"encoding": {
"x": {"field": "energy", "type": "quantitative", "scale": {"domain": [159.27, 167], "reverse": true, "nice": false, "zero": false},
"axis": {"values": [160,161,162,163,164,165,166], "labelExpr": "datum.value % 2 == 0 ? datum.label : ''", "title": "Binding energy (eV)", "titleFontSize": 21.8, "titleFontWeight": "normal", "titleColor": "#111", "titlePadding": 9, "titleX": 199, "labelFontSize": 18.5, "labelColor": "#111", "labelPadding": 3, "tickSize": 5, "tickColor": "black", "tickWidth": 1.2, "domainColor": "black", "domainWidth": 1.3, "grid": false, "labelOverlap": false, "labelFlush": false}},
"y": {"field": "intensity", "type": "quantitative", "scale": {"domain": [0, 100], "nice": false, "zero": false}, "axis": {"domain": true, "domainColor": "black", "domainWidth": 1.3, "ticks": false, "labels": false, "title": null, "grid": false}}
}
},
{
"transform": [{"filter": "datum.series == 'fit' || datum.series == 'c1' || datum.series == 'c2'"}],
"mark": {"type": "line", "strokeWidth": 1.1, "interpolate": "monotone"},
"encoding": {
"x": {"field": "energy", "type": "quantitative", "axis": null},
"y": {"field": "intensity", "type": "quantitative", "axis": null},
"detail": {"field": "series"},
"color": {"field": "series", "type": "nominal", "scale": {"domain": ["fit","c1","c2"], "range": ["#444444","#111111","#111111"]}, "legend": null}
}
},
{
"transform": [{"filter": "datum.series == 'label'"}],
"mark": {"type": "text", "align": "left", "baseline": "alphabetic", "fontSize": 19.5, "lineHeight": 22, "lineBreak": "\n", "color": "#111"},
"encoding": {
"x": {"datum": 166.72, "axis": {"orient": "top", "domain": true, "domainColor": "black", "domainWidth": 1.3, "ticks": false, "labels": false, "title": null, "grid": false}},
"y": {"datum": 84, "axis": null},
"text": {"field": "label"}
}
}
]
}
}
]
}
